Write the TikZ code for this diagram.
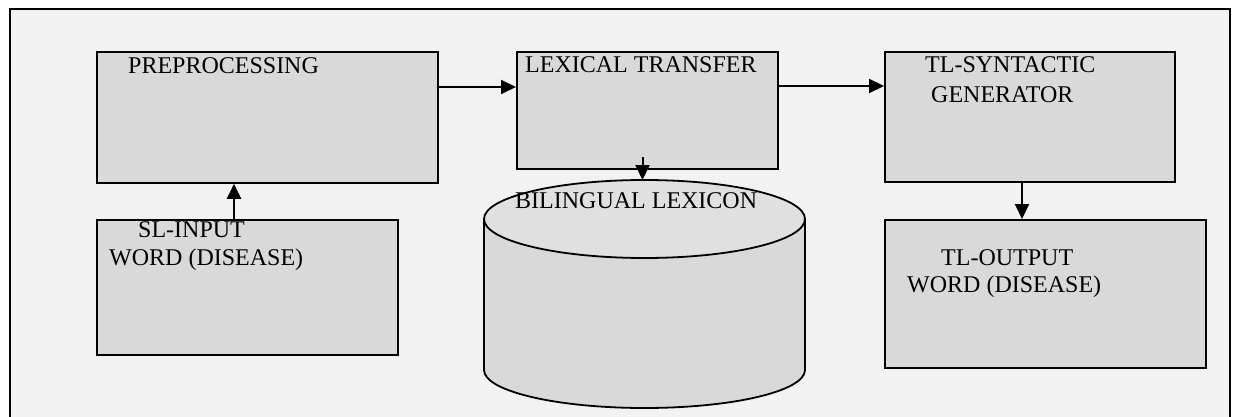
\documentclass[tikz,border=0pt]{standalone}
\usepackage{fontspec}
\setmainfont{Liberation Serif}
\usetikzlibrary{arrows.meta,calc}
\definecolor{bgc}{HTML}{F2F2F2}
\definecolor{boxc}{HTML}{D9D9D9}
\definecolor{topc}{HTML}{E0E0E0}
\begin{document}
\begin{tikzpicture}[x=1pt,y=1pt,
  blk/.style={draw=black,line width=1.8pt,fill=boxc,rectangle,inner sep=0pt,anchor=north west},
  txt/.style={inner sep=0pt,anchor=base west,font=\fontsize{24}{28}\selectfont},
  arr/.style={line width=2pt,-{Triangle[length=15pt,width=14pt]}}]
\useasboundingbox (0,0) rectangle (1234,416);
\fill[white] (0,0) rectangle (1234,416);
\draw[line width=2.5pt,fill=bgc] (10,-20) rectangle (1230,407);
% boxes
\node[blk,minimum width=341pt,minimum height=131pt] (pre) at (96,365) {};
\node[blk,minimum width=261pt,minimum height=117pt] (lex) at (516,365) {};
\node[blk,minimum width=290pt,minimum height=130pt] (syn) at (884,365) {};
\node[blk,minimum width=301pt,minimum height=135pt] (sl) at (96,197) {};
\node[blk,minimum width=321pt,minimum height=148pt] (out) at (884,197) {};
% cylinder
\fill[boxc] (484,197) -- (484,46) arc[start angle=180,end angle=360,x radius=160.5pt,y radius=38pt] -- (805,197) -- cycle;
\draw[line width=1.8pt] (484,197) -- (484,46) arc[start angle=180,end angle=360,x radius=160.5pt,y radius=38pt] -- (805,197);
\draw[line width=1.8pt,fill=topc] (644.5,197) ellipse[x radius=160.5pt,y radius=39pt];
\coordinate (cyltop) at (642.5,236);
% texts
\node[txt] (tpre) at (128,342) {PREPROCESSING};
\node[txt] (tlex) at (525,343) {LEXICAL TRANSFER};
\node[txt] (tsyn1) at (925,343) {TL-SYNTACTIC};
\node[txt] (tsyn2) at (931,314) {GENERATOR};
\node[txt] (tcyl) at (515,208) {BILINGUAL LEXICON};
\node[txt] (tsl1) at (138,179) {SL-INPUT};
\node[txt] (tsl2) at (109,151) {WORD (DISEASE)};
\node[txt] (tout1) at (941,151) {TL-OUTPUT};
\node[txt] (tout2) at (907,124) {WORD (DISEASE)};
% arrows
\draw[arr] (pre.east |- 0,329) -- (lex.west |- 0,329);
\draw[arr] (lex.east |- 0,330) -- (syn.west |- 0,330);
\draw[arr] (lex.south -| cyltop) ++(0,13) -- (cyltop);
\draw[arr] (sl.north -| 234,0) -- (pre.south -| 234,0);
\draw[arr] (syn.south -| 1022,0) -- (out.north -| 1022,0);
\end{tikzpicture}
\end{document}
